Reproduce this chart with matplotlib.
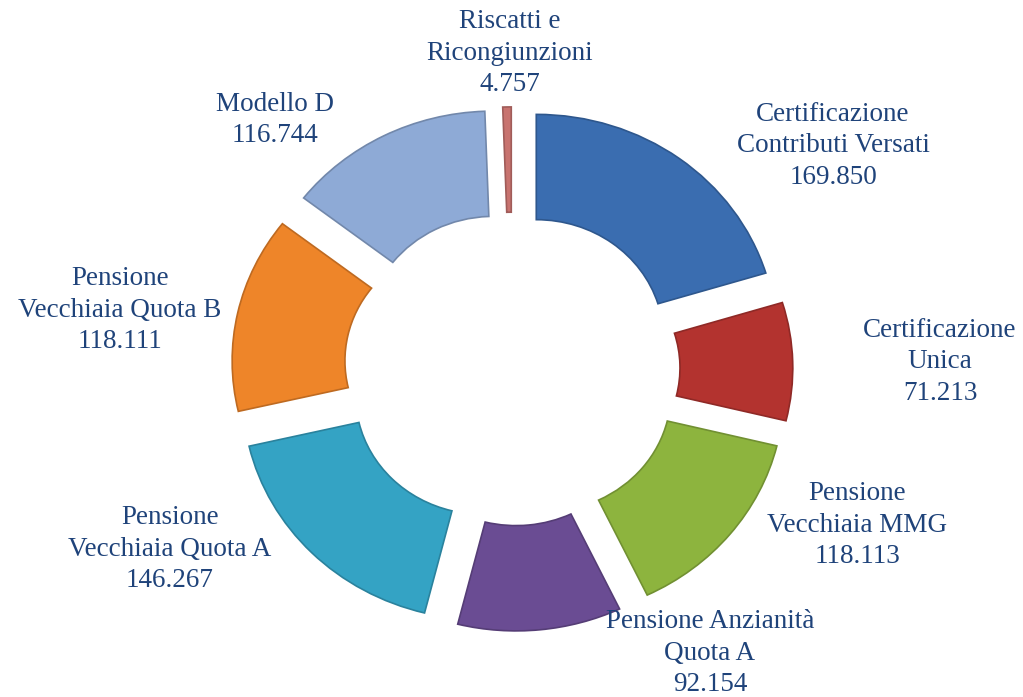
import matplotlib
matplotlib.use("Agg")
from matplotlib import pyplot as plt
from matplotlib import colors as mcolors

# dati
categorie = ["Certificazione\nContributi Versati", "Certificazione\nUnica",
             "Pensione\nVecchiaia MMG", "Pensione Anzianità\nQuota A",
             "Pensione\nVecchiaia Quota A", "Pensione\nVecchiaia Quota B",
             "Modello D", "Riscatti e\nRicongiunzioni"]
valori = [169850, 71213, 118113, 92154, 146267, 118111, 116744, 4757]
colori = ["#3a6db0", "#b3332f", "#8db43e", "#6a4c93",
          "#34a3c4", "#ee8529", "#8eaad6", "#c8736f"]

# posizione etichette (pixel)
pos_etichette = [(833, 146), (940, 362), (857, 525), (710, 653),
                 (170, 549), (120, 310), (275, 120), (510, 53)]

W, H = 1023, 697
fig = plt.figure(figsize=(W / 100, H / 100), dpi=100)
ax = fig.add_axes([0, 0, 1, 1])

wedges, _ = ax.pie(valori, colors=colori, startangle=90, counterclock=False,
                   explode=[0.17] * len(valori), radius=1.0,
                   wedgeprops=dict(width=0.47, linewidth=1.2))
for w, c in zip(wedges, colori):
    r, g, b = mcolors.to_rgb(c)
    w.set_edgecolor((r * 0.8, g * 0.8, b * 0.8))

# scala in pixel: centro (512, 369), 240 px/unita in x, 224 px/unita in y
cx, cy = 512, 369
sx, sy = 240, 224
ax.set_aspect("auto")
ax.set_xlim(-cx / sx, (W - cx) / sx)
ax.set_ylim(-(H - cy) / sy, cy / sy)
ax.axis("off")

def fmt(v):
    return f"{v:,}".replace(",", ".")

for nome, v, (px, py) in zip(categorie, valori, pos_etichette):
    fig.text(px / W, 1 - py / H, nome + "\n" + fmt(v), ha="center", va="center",
             fontsize=19.5, color="#1f437a", family="Liberation Serif",
             linespacing=1.33)

fig.savefig("out.png", dpi=100)
